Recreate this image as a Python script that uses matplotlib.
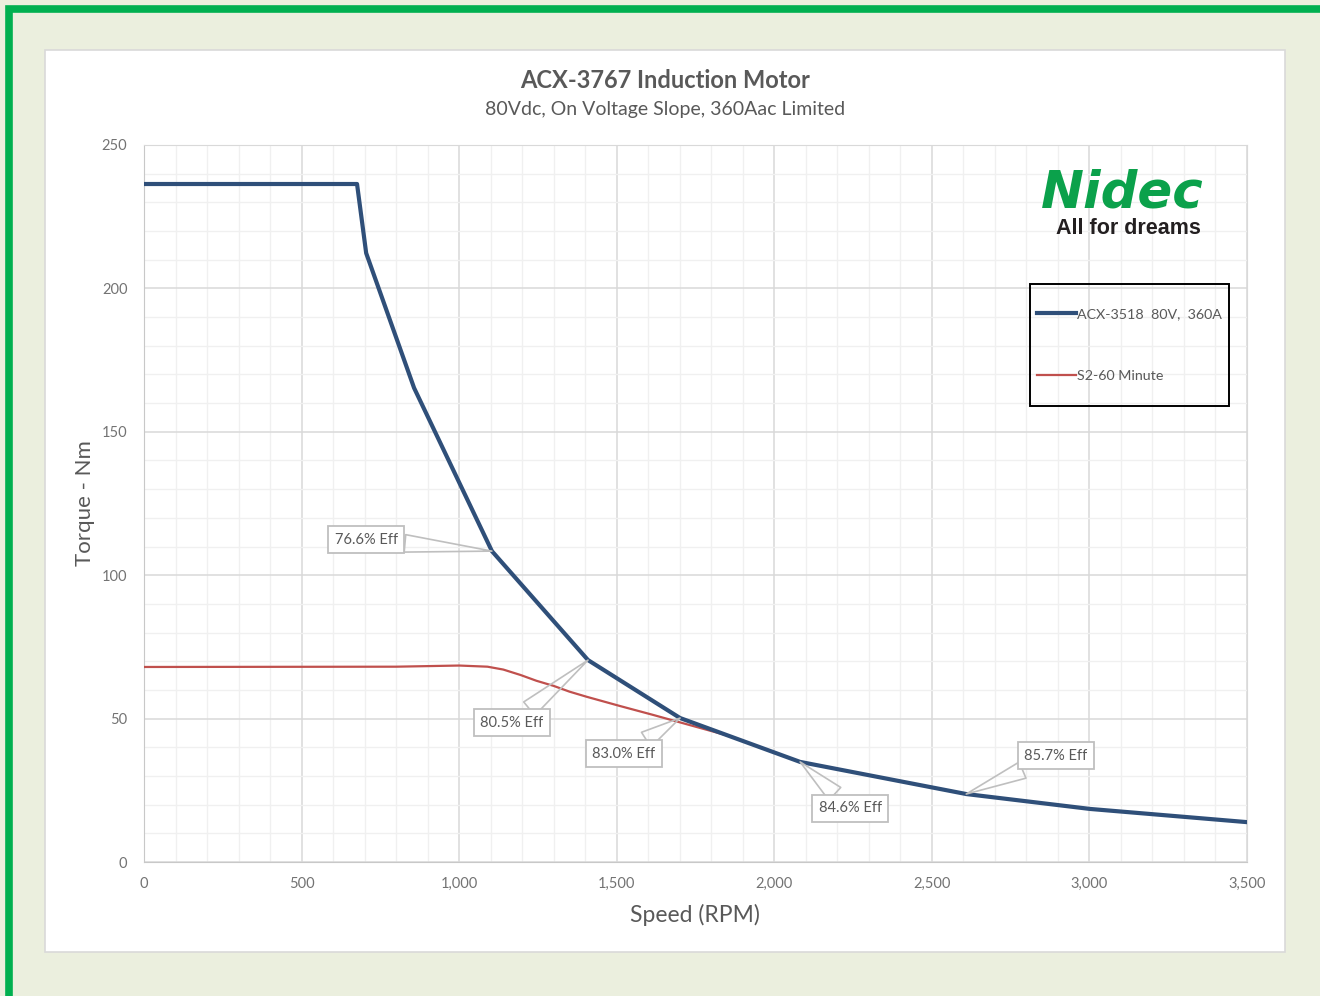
import matplotlib
matplotlib.use("Agg")
import matplotlib.pyplot as plt
import matplotlib.patches as patches
from matplotlib.ticker import MultipleLocator, FuncFormatter

'''
Data:
'''
blue_rpm = [0, 676, 705, 857, 1104, 1409, 1701, 2082, 2609, 3002, 3500]
blue_nm = [236.4, 236.4, 212.3, 165.3, 108.4, 70.4, 50.2, 34.9, 23.7, 18.5, 13.9]

red_rpm = [0, 800, 1000, 1090, 1140, 1195, 1245, 1300, 1350, 1405, 1510, 1615, 1720, 1845]
red_nm = [68.0, 68.1, 68.5, 68.1, 67.1, 65.2, 63.2, 61.4, 59.4, 57.6, 54.4, 51.3, 48.1, 44.3]

eff_labels = ["76.6% Eff", "80.5% Eff", "83.0% Eff", "84.6% Eff", "85.7% Eff"]
eff_points = [(1104, 108.4), (1409, 70.4), (1701, 50.2), (2082, 34.9), (2609, 23.7)]
eff_boxes = [(705, 112.3), (1168, 48.5), (1523, 37.7), (2241, 18.8), (2894, 37.0)]

series_names = ["ACX-3518  80V,  360A", "S2-60 Minute"]

'''
Figure:
'''
plt.rcParams['font.family'] = ['Lato', 'DejaVu Sans']
W, H = 1320, 996
fig = plt.figure(figsize=(W / 100, H / 100), dpi=100)
fig.patch.set_facecolor('#EBEFDE')

def fx(px):
    return px / W

def fy(py):
    return 1 - py / H

# green frame
fig.patches.append(patches.Rectangle((fx(9), fy(999)), fx(1330), fy(9) - fy(999),
                                     transform=fig.transFigure, fill=False,
                                     ec='#00B050', lw=5.5, zorder=0))
# white chart area
fig.patches.append(patches.Rectangle((fx(45), fy(952)), fx(1285 - 45), fy(50) - fy(952),
                                     transform=fig.transFigure, fc='white',
                                     ec='#D9D9D9', lw=1.2, zorder=0))

ax = fig.add_axes([fx(144), fy(862), fx(1247 - 144), fy(145) - fy(862)])
ax.set_facecolor('none')
ax.set_zorder(2)

ax.plot(blue_rpm, blue_nm, color='#2F4F79', lw=3.0, solid_joinstyle='round',
        label=series_names[0], zorder=4)
ax.plot(red_rpm, red_nm, color='#C0504D', lw=1.6, label=series_names[1], zorder=3)

ax.set_xlim(0, 3500)
ax.set_ylim(0, 250)
ax.xaxis.set_major_locator(MultipleLocator(500))
ax.xaxis.set_minor_locator(MultipleLocator(100))
ax.yaxis.set_major_locator(MultipleLocator(50))
ax.yaxis.set_minor_locator(MultipleLocator(10))
ax.xaxis.set_major_formatter(FuncFormatter(lambda v, p: f"{int(v):,}"))
ax.grid(which='major', color='#D9D9D9', lw=1.1, zorder=1)
ax.grid(which='minor', color='#F0F0F0', lw=1.0, zorder=1)
ax.set_axisbelow(True)
ax.tick_params(which='both', length=0, labelsize=10.5, labelcolor='#737373')
ax.tick_params(axis='y', pad=12)
ax.tick_params(axis='x', pad=11)
for s in ax.spines.values():
    s.set_color('#D9D9D9')
ax.spines['left'].set_color('#C8C8C8')
ax.spines['bottom'].set_color('#C8C8C8')

for lab, pt, box in zip(eff_labels, eff_points, eff_boxes):
    ax.annotate(lab, xy=pt, xytext=box, textcoords='data', ha='center', va='center',
                fontsize=10.5, color='#595959', zorder=6,
                bbox=dict(boxstyle='square,pad=0.45', fc='white', ec='#BFBFBF', lw=1.3),
                arrowprops=dict(arrowstyle='wedge,tail_width=1.2', fc='none',
                                ec='#BFBFBF', lw=1.2, shrinkA=0, shrinkB=0))

# legend: entries without frame, frame drawn as a box around them
leg = ax.legend(loc='center left', bbox_to_anchor=(fx(1037), fy(345)),
                bbox_transform=fig.transFigure, borderaxespad=0, fontsize=10.3,
                labelcolor='#595959', handlelength=2.7, handletextpad=0.1,
                labelspacing=3.45, borderpad=0, frameon=False)
leg.set_zorder(7)
fig.patches.append(patches.Rectangle((fx(1030), fy(406)), fx(1229 - 1030), fy(284) - fy(406),
                                     transform=fig.transFigure, fill=False,
                                     ec='black', lw=1.4, zorder=8))

fig.text(fx(665), fy(81), "ACX-3767 Induction Motor", ha='center', va='center',
         fontsize=17, fontweight='bold', color='#595959')
fig.text(fx(665), fy(109), "80Vdc, On Voltage Slope, 360Aac Limited", ha='center',
         va='center', fontsize=14, color='#595959')
fig.text(fx(85), fy(503), "Torque - Nm", ha='center', va='center', rotation=90,
         fontsize=16, color='#595959')
fig.text(fx(695), fy(915), "Speed (RPM)", ha='center', va='center',
         fontsize=16.5, color='#595959')

# logo
fig.text(fx(1041), fy(208), "Nidec", ha='left', va='baseline', fontsize=37,
         fontweight='bold', style='italic', family='DejaVu Sans', color='#0BA14B')
fig.text(fx(1056), fy(234), "All for dreams", ha='left', va='baseline', fontsize=15.5,
         fontweight='bold', family='Liberation Sans', color='#231F20')

fig.savefig('out.png', dpi=100, facecolor=fig.get_facecolor())
